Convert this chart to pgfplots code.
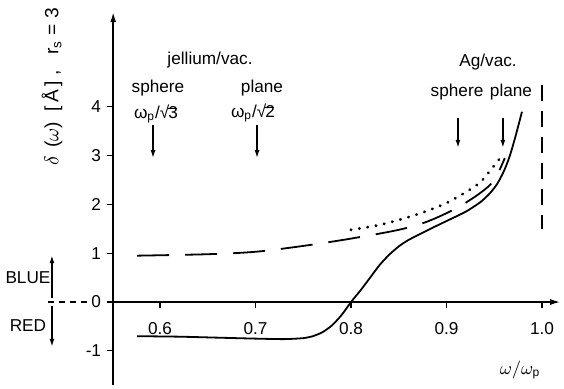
\documentclass[border=0pt]{standalone}
\usepackage{pgfplots}
\pgfplotsset{compat=1.18}
\usepackage{fontspec}
\setmainfont{Liberation Sans}
\usetikzlibrary{arrows.meta}
\begin{document}
\fontsize{8.6}{10}\selectfont
\begin{tikzpicture}
\begin{axis}[
  scale only axis, width=223.5pt, height=186.4pt,
  xmin=0.551, xmax=1.019, ymin=-1.70, ymax=5.94,
  axis x line=middle, axis y line=left,
  axis line style={line width=0.8pt,-{Latex[length=5pt,width=3pt]}},
  hide obscured x ticks=false, hide obscured y ticks=false,
  xtick={0.6,0.7,0.8,0.9,1.0}, ytick={-1,0,1,2,3,4},
  xticklabels={0.6,0.7,0.8,0.9,1.0},
  yticklabels={-1,0,1,2,3,4},
  tick align=outside, major tick length=3pt,
  tick style={line width=0.6pt,black},
  xticklabel style={yshift=-4pt},
  clip=false,
  /pgf/number format/assume math mode=true,
]
% solid curve
\addplot[black, line width=0.9pt, smooth, tension=0.4] coordinates {
(0.576,-0.70) (0.62,-0.71) (0.66,-0.73) (0.70,-0.75) (0.73,-0.76) (0.75,-0.74)
(0.76,-0.70) (0.77,-0.62) (0.78,-0.48) (0.79,-0.27) (0.80,0.0) (0.81,0.24)
(0.82,0.50) (0.83,0.76) (0.84,0.97) (0.85,1.14) (0.86,1.27) (0.88,1.47)
(0.90,1.66) (0.92,1.85) (0.935,2.04) (0.945,2.22) (0.953,2.42)
(0.96,2.68) (0.966,2.98) (0.972,3.38) (0.979,3.90)};
% dashed curve
\addplot[black, line width=0.9pt, smooth, tension=0.5, dash pattern=on 16pt off 8pt] coordinates {
(0.576,0.95) (0.65,0.98) (0.70,1.03) (0.75,1.15) (0.80,1.30) (0.85,1.48)
(0.88,1.65) (0.91,1.92) (0.935,2.23) (0.95,2.50) (0.961,2.95)};
% dotted curve
\addplot[black, line width=1.6pt, smooth, tension=0.5, line cap=round, dash pattern=on 0.01pt off 4.2pt] coordinates {
(0.80,1.48) (0.83,1.58) (0.86,1.74) (0.88,1.87) (0.90,2.03) (0.92,2.25)
(0.935,2.45) (0.946,2.70) (0.956,2.95)};
% vertical dashed line at 1.0
\addplot[black, line width=0.7pt, dash pattern=on 8pt off 5pt] coordinates {(1.0,4.45) (1.0,1.5)};
% mode arrows
\addplot[black, line width=0.7pt, -{Latex[length=4pt,width=2.5pt]}] coordinates {(0.5927,3.62) (0.5927,2.95)};
\addplot[black, line width=0.7pt, -{Latex[length=4pt,width=2.5pt]}] coordinates {(0.7016,3.62) (0.7016,2.95)};
\addplot[black, line width=0.7pt, -{Latex[length=4pt,width=2.5pt]}] coordinates {(0.912,3.77) (0.912,3.16)};
\addplot[black, line width=0.7pt, -{Latex[length=4pt,width=2.5pt]}] coordinates {(0.959,3.77) (0.959,3.16)};
% BLUE / RED arrows and zero dashes
\addplot[black, line width=0.8pt, -{Latex[length=4pt,width=2.5pt]}] coordinates {(0.4869,0.08) (0.4869,0.96)};
\addplot[black, line width=0.8pt, -{Latex[length=4pt,width=2.5pt]}] coordinates {(0.4869,-0.08) (0.4869,-0.92)};
\addplot[black, line width=0.6pt, dash pattern=on 3pt off 2.5pt] coordinates {(0.4827,0) (0.5267,0)};
% texts
\node at (axis cs:0.6524,4.96) {jellium/vac.};
\node[inner sep=0.5pt] at (axis cs:0.5979,4.38) {sphere};
\node[inner sep=0.5pt] at (axis cs:0.5958,3.86) {ω\textsubscript{p}/√\kern-0.5pt\rlap{\raisebox{1.05ex}{\rule{0.5em}{0.4pt}}}3};
\node[inner sep=0.5pt] at (axis cs:0.7068,4.38) {plane};
\node[inner sep=0.5pt] at (axis cs:0.6974,3.88) {ω\textsubscript{p}/√\kern-0.5pt\rlap{\raisebox{1.05ex}{\rule{0.5em}{0.4pt}}}2};
\node at (axis cs:0.9435,4.92) {Ag/vac.};
\node at (axis cs:0.911,4.30) {sphere};
\node at (axis cs:0.9675,4.30) {plane};
\node at (axis cs:0.977,-1.39) {$\omega/\omega_{\mathrm{p}}$};
\node at (axis cs:0.4618,0.49) {BLUE};
\node at (axis cs:0.4618,-0.49) {RED};
\node[rotate=90, font=\fontsize{9.6}{11}\selectfont] at (axis cs:0.4869,4.41) {$\delta$\ \,($\omega$)\ \ [\,Å\,]\ ,\ \ \ r$_{\mathrm{s}}$\ =\ 3};
\coordinate (bl) at (axis cs:0.4325,-1.762);
\coordinate (tr) at (axis cs:1.023,6.19);
\end{axis}
\pgfresetboundingbox
\path[use as bounding box] (bl) rectangle (tr);
\end{tikzpicture}
\end{document}
